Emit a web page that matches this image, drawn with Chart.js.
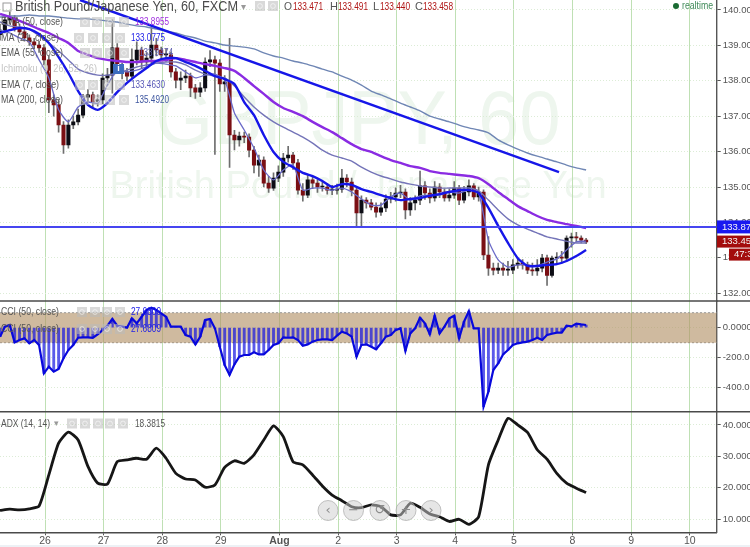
<!DOCTYPE html>
<html>
<head>
<meta charset="utf-8">
<title>GBPJPY 60</title>
<script src="https://cdn.jsdelivr.net/npm/chart.js@4/dist/chart.umd.js"></script>
<style>
  html, body { margin: 0; padding: 0; background: #fff; }
  canvas { display: block; }
</style>
</head>
<body>
<canvas id="chart" width="750" height="547"></canvas>
<script>
// x axis: one unit per trading day, weekends are squeezed out
const dayLabels = ["26", "27", "28", "29", "Aug", "2", "3", "4", "5", "8", "9", "10"];
const xMin = -0.768;
const xMax = 11.46;

const priceTicks = [132, 133, 134, 135, 136, 137, 138, 139, 140];
const cciTicks = [-400, -200, 0];
const adxTicks = [10, 20, 30, 40];

// 2 hour candles
const opens = [139.30,139.43,139.72,139.77,139.49,139.38,139.21,139.10,139.01,138.93,138.59,137.46,137.32,136.75,136.19,136.75,136.84,137.03,137.54,137.60,137.40,137.46,138.08,138.16,138.93,138.36,138.25,138.13,138.59,138.87,138.53,138.64,139.01,138.87,138.73,138.73,138.25,138.02,138.08,138.13,137.80,137.68,137.80,138.53,138.59,138.50,137.91,137.97,136.47,136.33,136.44,136.41,136.04,135.62,135.76,135.11,134.97,135.25,135.42,135.82,135.90,135.68,134.91,134.77,135.20,135.11,135.00,135.00,134.91,134.91,134.94,135.25,135.14,134.91,134.27,134.63,134.55,134.43,134.29,134.41,134.66,134.72,134.83,134.86,134.35,134.55,134.63,135.03,134.83,134.69,135.00,134.86,134.69,134.77,134.97,134.63,134.86,135.03,134.72,134.86,133.08,132.71,132.65,132.71,132.65,132.65,132.80,132.85,132.80,132.65,132.63,132.71,133.00,132.50,132.99,133.02,132.99,133.56,133.59,133.56,133.50];
const highs = [139.60,139.85,139.95,139.85,139.60,139.45,139.30,139.20,139.12,139.02,138.70,137.60,137.45,136.85,136.90,137.00,137.20,137.62,137.75,137.68,137.60,138.20,138.35,139.72,139.05,138.50,138.35,138.90,139.10,138.95,138.80,139.50,139.20,138.95,138.90,138.82,138.35,138.25,138.30,138.22,137.90,137.95,138.65,138.85,138.70,138.60,138.15,139.20,136.60,136.55,136.55,136.50,136.15,135.90,135.85,135.30,135.40,135.60,135.95,136.15,135.98,135.78,135.10,135.35,135.30,135.20,135.15,135.10,135.05,135.08,135.50,135.35,135.25,135.00,134.75,134.70,134.65,134.55,134.55,134.78,134.85,134.98,135.05,134.95,134.70,134.75,135.45,135.15,134.95,135.15,135.10,134.95,134.95,135.15,135.05,135.02,135.20,135.10,135.00,134.92,133.60,132.85,132.85,132.85,132.90,132.95,133.00,132.95,132.88,132.85,132.95,133.10,133.08,133.05,133.15,133.18,133.62,133.70,133.72,133.62,133.55];
const lows = [139.15,139.35,139.60,139.40,139.30,139.12,139.00,138.90,138.80,138.45,137.10,137.00,136.55,135.95,136.10,136.65,136.75,136.95,137.40,137.25,137.28,137.35,137.95,137.65,138.20,138.05,138.00,138.05,138.45,138.35,138.40,138.50,138.70,138.60,138.55,138.10,137.80,137.75,137.95,137.55,137.50,137.55,137.70,138.40,135.92,137.70,137.70,135.55,136.05,136.15,136.25,135.85,135.40,135.30,135.00,134.85,134.90,135.15,135.30,135.70,135.50,134.80,134.60,134.70,134.95,134.85,134.88,134.80,134.78,134.80,134.85,135.00,134.75,133.90,133.85,134.40,134.35,134.15,134.20,134.30,134.55,134.60,134.70,134.10,134.20,134.35,134.50,134.65,134.55,134.60,134.70,134.60,134.60,134.68,134.50,134.55,134.75,134.65,134.60,132.95,132.50,132.52,132.55,132.50,132.50,132.55,132.70,132.68,132.55,132.50,132.50,132.60,132.22,132.45,132.85,132.85,132.90,133.30,133.45,133.42,133.40];
const closes = [139.43,139.72,139.77,139.49,139.38,139.21,139.10,139.01,138.93,138.59,137.46,137.32,136.75,136.19,136.75,136.84,137.03,137.54,137.60,137.40,137.46,138.08,138.16,138.93,138.36,138.25,138.13,138.59,138.87,138.53,138.64,139.01,138.87,138.73,138.73,138.25,138.02,138.08,138.13,137.80,137.68,137.80,138.53,138.59,138.50,137.91,137.97,136.47,136.33,136.44,136.41,136.04,135.62,135.76,135.11,134.97,135.25,135.42,135.82,135.90,135.68,134.91,134.77,135.20,135.11,135.00,135.00,134.91,134.91,134.94,135.25,135.14,134.91,134.27,134.63,134.55,134.43,134.29,134.41,134.66,134.72,134.83,134.86,134.35,134.55,134.63,135.03,134.83,134.69,135.00,134.86,134.69,134.77,134.97,134.63,134.86,135.03,134.72,134.86,133.08,132.71,132.65,132.71,132.65,132.65,132.80,132.85,132.80,132.65,132.63,132.71,132.99,132.50,132.99,133.02,132.99,133.56,133.59,133.56,133.50,133.45];

// 4 hour samples of the moving averages
const ma200 = [139.80,139.83,139.83,139.86,139.83,139.83,139.80,139.77,139.75,139.75,139.72,139.69,139.66,139.60,139.55,139.52,139.46,139.41,139.35,139.27,139.21,139.12,139.07,139.01,138.98,138.95,138.90,138.79,138.70,138.64,138.56,138.50,138.42,138.33,138.25,138.13,138.02,137.88,137.71,137.60,137.49,137.37,137.26,137.15,137.00,136.92,136.84,136.75,136.67,136.61,136.53,136.33,136.19,136.07,135.96,135.87,135.79,135.71,135.62,135.54,135.48];
const ma50 = [139.89,139.80,139.69,139.58,139.46,139.35,139.21,139.07,138.84,138.73,138.64,138.59,138.56,138.53,138.53,138.56,138.56,138.59,138.64,138.59,138.53,138.47,138.42,138.36,138.28,138.08,137.85,137.63,137.40,137.23,137.12,137.00,136.84,136.69,136.55,136.38,136.21,136.07,135.99,135.87,135.76,135.68,135.59,135.54,135.45,135.40,135.37,135.34,135.31,135.25,135.08,134.86,134.66,134.46,134.32,134.18,134.07,134.01,133.95,133.90,133.84];
const ema55 = [139.66,139.55,139.52,139.46,139.27,139.07,138.84,138.59,138.33,138.22,138.16,138.16,138.22,138.30,138.39,138.45,138.50,138.53,138.53,138.45,138.30,138.19,138.13,138.08,137.85,137.54,137.26,137.03,136.84,136.69,136.55,136.41,136.24,136.04,135.90,135.82,135.73,135.56,135.42,135.31,135.23,135.14,135.08,135.03,135.00,134.97,134.97,134.97,134.97,134.89,134.63,134.35,134.10,133.93,133.81,133.70,133.59,133.53,133.47,133.42,133.42];
const ma21 = [139.35,139.43,139.49,139.46,139.32,139.07,138.67,138.22,137.71,137.32,137.18,137.37,137.68,137.94,138.16,138.36,138.56,138.64,138.64,138.53,138.42,138.28,138.13,138.05,137.91,137.40,137.03,136.47,135.99,135.71,135.56,135.40,135.31,135.17,135.00,135.08,135.06,134.94,134.86,134.77,134.69,134.63,134.66,134.69,134.75,134.80,134.86,134.91,134.91,134.83,134.41,133.90,133.42,132.99,132.77,132.77,132.80,132.82,132.91,133.05,133.22];
const ema7 = [139.43,139.35,139.21,139.10,138.59,138.08,137.18,136.84,137.26,137.40,137.37,137.88,138.30,138.25,138.30,138.39,138.50,138.47,138.42,138.25,138.08,138.16,138.19,138.02,137.09,136.61,136.10,135.48,135.20,135.48,135.62,134.91,134.97,134.97,134.91,134.97,134.86,134.66,134.49,134.49,134.72,134.83,134.63,134.75,134.77,134.77,134.86,134.83,134.91,134.83,133.50,132.94,132.74,132.80,132.80,132.77,132.88,132.97,133.22,133.45,133.47];

// hand drawn trend line and horizontal level
const trendX = [0.597, 8.77];
const trendY = [140.282, 135.42];
const levelY = [133.87, 133.87];
const bandTop = [100, 100];
const bandBottom = [-100, -100];

const cci = [-60,7,18,-98,-82,-71,-104,-82,-115,-304,-260,-293,-275,-204,-149,-115,-67,-64,-64,-67,-44,-16,13,58,13,7,0,62,29,73,118,133,118,95,73,7,7,7,-49,-60,-111,-60,51,58,-4,-127,-249,-315,-244,-193,-182,-182,-164,-178,-178,-149,-115,-104,-64,-67,-64,-82,-120,-111,-93,-82,-78,-78,-82,-53,-27,-38,-60,-193,-115,-111,-127,-144,-104,-60,-49,-16,-4,-155,-38,-4,67,29,-44,80,-38,7,62,80,-71,40,111,-4,-4,-526,-426,-282,-238,-178,-149,-115,-104,-98,-93,-82,-67,-82,-49,-40,-33,-33,13,9,27,22,18];
const adx = [12.8,13.2,13,13.3,14.2,24.1,34.2,37.7,35.2,26.8,21.5,21.2,28.3,28.9,29.4,29.1,32.6,29.4,24.6,22.8,22.5,20.2,20.9,26.5,28.6,27.8,30.5,35.2,39.7,36.3,28.3,27.3,24.1,20.6,17.7,15.9,14,13.7,14.6,14,11.4,11.4,15.1,13.8,11.7,10.8,9.3,10,8.4,10.8,27.3,35.2,42.1,40,37.6,32.1,29.1,24.6,21.5,19.9,18.5];

const barX = i => xMin + i / 12;
const lineX = i => xMin + i / 6;
const toLine = arr => arr.map((v, i) => ({ x: lineX(i), y: v }));
const edges = arr => [{ x: xMin, y: arr[0] }, { x: xMax, y: arr[1] }];

const BODY_DOWN = "#7a0f14";
const BODY_UP = "#0c0c14";
const BLUE = "#1616e8";

function maLine(label, values, color, width, order) {
  return { type: "line", label, data: toLine(values), yAxisID: "y", borderColor: color, borderWidth: width, pointRadius: 0, tension: 0.2, order };
}

const datasets = [
  // CCI band, drawn first
  { type: "line", label: "band top", data: edges(bandTop), yAxisID: "yCci", borderColor: "#9a9a9a", borderWidth: 1, borderDash: [2, 2], pointRadius: 0, fill: "+1", backgroundColor: "rgba(178,143,100,0.62)", order: 20 },
  { type: "line", label: "band bottom", data: edges(bandBottom), yAxisID: "yCci", borderColor: "#9a9a9a", borderWidth: 1, borderDash: [2, 2], pointRadius: 0, order: 20 },
  // candles
  { type: "bar", label: "wicks", data: highs.map((h, i) => ({ x: barX(i), y: [lows[i], h] })), yAxisID: "y", backgroundColor: "#6e6e6e", barThickness: 1, grouped: false, order: 10 },
  { type: "bar", label: "bodies", data: opens.map((o, i) => ({ x: barX(i), y: [o, closes[i]] })), yAxisID: "y", backgroundColor: opens.map((o, i) => (closes[i] < o ? BODY_DOWN : BODY_UP)), barThickness: 3.4, minBarLength: 1, grouped: false, order: 9 },
  maLine("MA 200", ma200, "#6f86b4", 1.4, 6),
  maLine("MA 50", ma50, "#8a2be2", 2.4, 5),
  maLine("EMA 55", ema55, "#7474b8", 1.4, 6),
  maLine("EMA 7", ema7, "#6a6ac8", 1.3, 7),
  maLine("MA 21", ma21, BLUE, 2.4, 4),
  { type: "line", label: "trend", data: trendX.map((x, i) => ({ x, y: trendY[i] })), yAxisID: "y", borderColor: BLUE, borderWidth: 2.4, pointRadius: 0, order: 3 },
  { type: "line", label: "level", data: edges(levelY), yAxisID: "y", borderColor: "#4646f0", borderWidth: 2, pointRadius: 0, order: 3 },
  // CCI histogram and line
  { type: "bar", label: "CCI hist", data: cci.map((v, i) => ({ x: barX(i), y: v })), yAxisID: "yCci", backgroundColor: "rgba(20,20,225,0.7)", barThickness: 2.2, grouped: false, order: 8 },
  { type: "line", label: "CCI", data: cci.map((v, i) => ({ x: barX(i), y: v })), yAxisID: "yCci", borderColor: "#0808dc", borderWidth: 2.2, pointRadius: 0, order: 2 },
  { type: "line", label: "ADX", data: toLine(adx), yAxisID: "yAdx", borderColor: "#161616", borderWidth: 2.8, pointRadius: 0, tension: 0.2, order: 1 }
];

function label(ctx, text, x, y, color, font, maxW, align) {
  ctx.font = font;
  ctx.fillStyle = color;
  ctx.textAlign = align || "left";
  ctx.textBaseline = "middle";
  ctx.fillText(text, x, y, maxW);
}

// little grey indicator buttons next to the legend rows
function buttons(ctx, xs, y) {
  ctx.save();
  ctx.globalAlpha = 0.55;
  xs.forEach(x => {
    ctx.fillStyle = "#b9b9b9";
    ctx.fillRect(x - 5, y - 5, 10, 10);
    ctx.strokeStyle = "#fff";
    ctx.lineWidth = 1;
    ctx.beginPath();
    ctx.arc(x, y, 2.4, 0, Math.PI * 2);
    ctx.stroke();
  });
  ctx.restore();
}

const watermark = {
  id: "watermark",
  beforeDraw(chart) {
    const ctx = chart.ctx;
    ctx.save();
    ctx.fillStyle = "#ffffff";
    ctx.fillRect(0, 0, 750, 547);
    ctx.fillStyle = "#edf1f5";
    ctx.fillRect(0, 545, 750, 2);
    label(ctx, "GBPJPY, 60", 358, 123, "#eef6ee", "76px 'Liberation Sans'", 405, "center");
    label(ctx, "British Pound / Japanese Yen", 358, 188, "#eef6ee", "38px 'Liberation Sans'", 505, "center");
    ctx.restore();
  }
};

const overlay = {
  id: "overlay",
  afterDraw(chart) {
    const ctx = chart.ctx;
    const { y, yCci, yAdx } = chart.scales;
    ctx.save();

    // pane separators
    ctx.strokeStyle = "#4a4a4a";
    ctx.lineWidth = 1.4;
    [yCci.top, yAdx.top].forEach(py => {
      ctx.beginPath();
      ctx.moveTo(0, py);
      ctx.lineTo(750, py);
      ctx.stroke();
    });

    // header
    const font = "11px 'Liberation Sans'";
    ctx.strokeStyle = "#9a9a9a";
    ctx.lineWidth = 1;
    ctx.strokeRect(3, 3, 8, 8);
    label(ctx, "British Pound/Japanese Yen, 60, FXCM", 15, 7, "#4a4a4a", "14px 'Liberation Sans'", 223);
    label(ctx, "\u25BE", 241, 7, "#999", "10px 'DejaVu Sans'");
    buttons(ctx, [260, 273], 6);
    const ohlc = [["O", "133.471", 284, 293], ["H", "133.491", 330, 338], ["L", "133.440", 373, 380], ["C", "133.458", 415, 423]];
    ohlc.forEach(([k, v, kx, vx]) => {
      label(ctx, k, kx, 7, "#555", font, 8);
      label(ctx, v, vx, 7, "#b01616", font, 30);
    });
    ctx.fillStyle = "#1a6b32";
    ctx.beginPath();
    ctx.arc(676, 6, 3, 0, Math.PI * 2);
    ctx.fill();
    label(ctx, "realtime", 682, 6, "#3f8a58", font, 31);

    // legend rows
    const rows = [
      ["EMA (50, close)", 22, 62, [85, 97, 110, 124], "133.8955", 135, "#a02ee0"],
      ["MA (21, close)", 38, 58, [79, 93, 107, 120], "133.0775", 131, "#2020e8"],
      ["EMA (55, close)", 53, 62, [85, 97, 110, 124], "133.9474", 139, "#6060b0"],
      ["Ichimoku (9, 26, 52, 26)", 69, 96, [], "", 0, "#bbb"],
      ["EMA (7, close)", 85, 58, [80, 93, 107, 120], "133.4630", 131, "#5a5ab8"],
      ["MA (200, close)", 100, 62, [84, 97, 110, 124], "135.4920", 135, "#4058a0"]
    ];
    rows.forEach(([name, ry, w, btns, val, vx, color]) => {
      label(ctx, name, 1, ry, name.startsWith("Ichimoku") ? "#c4c4c4" : "#555", font, w);
      buttons(ctx, btns, ry);
      if (val) label(ctx, val, vx, ry, color, font, 34);
    });
    ctx.fillStyle = "#3c6cc0";
    ctx.fillRect(113, 64, 11, 10);
    label(ctx, "i", 118.5, 69, "#fff", "bold 9px 'Liberation Sans'", 8, "center");

    label(ctx, "CCI (50, close)", 1, 312, "#555", font, 58);
    buttons(ctx, [82, 95, 107, 120], 312);
    label(ctx, "27.6809", 131, 312, "#2020e8", font, 30);
    label(ctx, "CCI (50, close)", 1, 329, "#555", font, 58);
    buttons(ctx, [82, 95, 107, 120], 329);
    label(ctx, "27.6809", 131, 329, "#2020e8", font, 30);

    label(ctx, "ADX (14, 14)", 1, 423.5, "#555", font, 49);
    label(ctx, "\u25BE", 54, 423.5, "#999", "9px 'DejaVu Sans'");
    buttons(ctx, [72, 85, 98, 110, 123], 423.5);
    label(ctx, "18.3815", 135, 423.5, "#555", font, 30);

    // last value tags on the price axis
    const tag = (value, text, x0, h, fill, dy) => {
      const py = y.getPixelForValue(value) + dy;
      ctx.fillStyle = fill;
      ctx.fillRect(x0, py - h / 2, 750 - x0, h);
      label(ctx, text, x0 + 5, py, "#f4f4f4", "9.5px 'Liberation Sans Narrow', 'Liberation Sans'");
    };
    tag(133.873, "133.8730", 717, 13, "#1818f0", 0);
    tag(133.458, "133.4580", 717, 12, "#a30c0c", 0);
    tag(133.458, "47:36", 729, 12, "#a30c0c", 13);

    // navigation buttons
    const nav = [[328, "\u2039"], [353.5, "\u2212"], [380, "\u21BA"], [406, "+"], [431, "\u203A"]];
    nav.forEach(([cx, glyph]) => {
      ctx.beginPath();
      ctx.arc(cx, 510.5, 10, 0, Math.PI * 2);
      ctx.fillStyle = "rgba(205,205,205,0.5)";
      ctx.fill();
      ctx.strokeStyle = "rgba(170,170,170,0.7)";
      ctx.lineWidth = 1;
      ctx.stroke();
      label(ctx, glyph, cx, 510.5, "#8c8c8c", "13px 'DejaVu Sans'", 14, "center");
    });
    ctx.restore();
  }
};

const GRID_DOT = "#dcecd6";
const TICK_FONT = { family: "'Liberation Sans Narrow', 'Liberation Sans'", size: 9.5 };

function paneAxis(values, weight, paneOrder, min, max) {
  return {
    type: "linear",
    position: "right",
    stack: "panes",
    stackWeight: weight,
    weight: paneOrder,
    min,
    max,
    afterBuildTicks: s => { s.ticks = values.map(v => ({ value: v })); },
    afterFit: s => { s.width = 33.3; s.paddingTop = 0; s.paddingBottom = 0; },
    grid: { color: GRID_DOT, lineWidth: 1, tickLength: 4, tickColor: "#555" },
    border: { color: "#555", width: 1.4, dash: [1, 2] },
    ticks: { color: "#555", font: TICK_FONT, padding: 2, callback: v => Number(v).toFixed(4) }
  };
}

new Chart(document.getElementById("chart"), {
  type: "bar",
  data: { datasets },
  plugins: [watermark, overlay],
  options: {
    responsive: false,
    animation: false,
    parsing: { xAxisKey: "x", yAxisKey: "y" },
    layout: { padding: 0 },
    plugins: { legend: { display: false }, tooltip: { enabled: false } },
    scales: {
      x: {
        type: "linear",
        offset: false,
        min: xMin,
        max: xMax,
        afterBuildTicks: s => { s.ticks = dayLabels.map((_, i) => ({ value: i })); },
        afterFit: s => { s.height = 14.7; },
        grid: { offset: false, color: "#bfe0b4", lineWidth: 1, tickLength: 3, tickColor: "#555" },
        border: { color: "#4a4a4a", width: 1.4 },
        ticks: {
          autoSkip: false,
          maxRotation: 0,
          padding: 0,
          color: "#555",
          font: ctx => ({ family: "'Liberation Sans'", size: 10.5, weight: dayLabels[ctx.index] === "Aug" ? "bold" : "normal" }),
          callback: v => dayLabels[v]
        }
      },
      y: paneAxis(priceTicks, 301, 1, 131.78, 140.282),
      yCci: paneAxis(cciTicks, 110.7, 2, -560, 178),
      yAdx: paneAxis(adxTicks, 120.6, 3, 5.86, 44.2)
    }
  }
});
</script>
</body>
</html>
